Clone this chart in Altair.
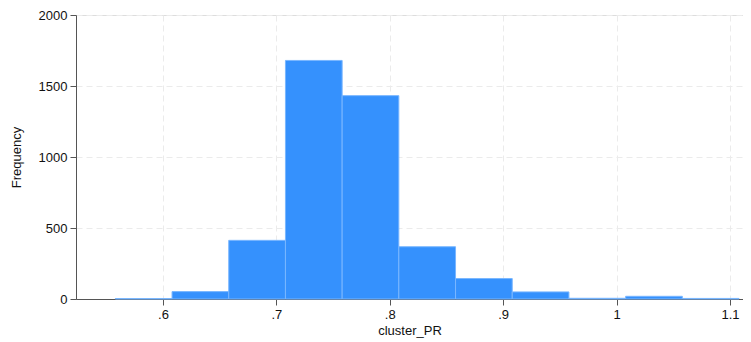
import altair as alt
import pandas as pd

bin_start = [0.558, 0.608, 0.658, 0.708, 0.758, 0.808, 0.858, 0.908, 0.958, 1.008, 1.058]
bin_end = [0.608, 0.658, 0.708, 0.758, 0.808, 0.858, 0.908, 0.958, 1.008, 1.058, 1.108]
counts = [3, 52, 413, 1680, 1432, 368, 144, 50, 5, 19, 4]

x_ticks = [0.6, 0.7, 0.8, 0.9, 1.0, 1.1]
y_ticks = [0, 500, 1000, 1500, 2000]

df = pd.DataFrame({"start": bin_start, "end": bin_end, "count": counts})

FONT = "Liberation Sans"

chart = alt.Chart(df).mark_bar(
    color="#3591fd", stroke="#79b6ff", strokeWidth=1
).encode(
    x=alt.X("start:Q",
            scale=alt.Scale(domain=[0.5233, 1.1115], nice=False, zero=False),
            axis=alt.Axis(values=x_ticks, title="cluster_PR",
                          labelExpr="replace(format(datum.value, '.1~f'), /^0/, '')",
                          grid=True, gridDash=[6, 4], gridColor="#ebebeb",
                          domainColor="#555555", tickColor="#555555",
                          tickSize=6, labelPadding=3, labelFontSize=13,
                          titleFontSize=13, titleFontWeight="normal",
                          titlePadding=3, labelColor="#111111", titleColor="#111111")),
    x2="end:Q",
    y=alt.Y("count:Q",
            scale=alt.Scale(domain=[0, 2000], nice=False),
            axis=alt.Axis(values=y_ticks, title="Frequency", format="d",
                          grid=True, gridDash=[6, 4], gridColor="#ebebeb",
                          domainColor="#555555", tickColor="#555555",
                          tickSize=6, labelPadding=3, labelFontSize=13,
                          titleFontSize=13, titleFontWeight="normal",
                          titlePadding=15, labelColor="#111111", titleColor="#111111")),
    y2=alt.datum(0),
).properties(
    width=667,
    height=284,
    autosize=alt.AutoSizeParams(type="none"),
    padding={"left": 68, "top": 7, "right": 0, "bottom": 43},
).configure_view(
    stroke=None
).configure(
    font=FONT
).configure_axis(
    labelFont=FONT, titleFont=FONT
)

chart.save("out.html", embed_options={"renderer": "svg", "actions": False})
